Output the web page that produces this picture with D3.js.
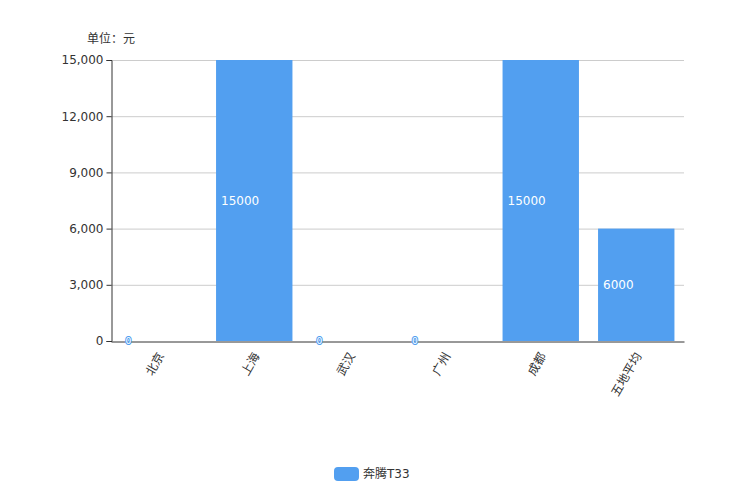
<!DOCTYPE html>
<html><head><meta charset="utf-8">
<script src="https://cdn.jsdelivr.net/npm/d3@7/dist/d3.min.js"></script>
<style>
html,body{margin:0;padding:0;background:#fff;}
text{font-family:"DejaVu Sans","Noto Sans CJK SC",sans-serif;}
</style></head>
<body>
<script>
const categories = ["北京","上海","武汉","广州","成都","五地平均"];
const values = [0,15000,0,0,15000,6000];
const seriesName = "奔腾T33";
const yTicks = [0,3000,6000,9000,12000,15000];
const unitLabel = "单位：元";

const W=744,H=496;
const m={left:111,right:60,top:60,bottom:155};
const svg=d3.select("body").append("svg").attr("width",W).attr("height",H);
const x=d3.scaleBand().domain(categories).range([m.left,W-m.right]).paddingInner(0.2).paddingOuter(0.1);
const y=d3.scaleLinear().domain([0,15000]).range([H-m.bottom,m.top]);
const color="#529ff0";

// grid
svg.append("g").selectAll("line").data(yTicks.filter(d=>d>0)).join("line")
 .attr("x1",m.left).attr("x2",W-m.right).attr("y1",d=>y(d)+0.5).attr("y2",d=>y(d)+0.5)
 .attr("stroke","#ccc").attr("stroke-width",1);

// bars
svg.append("g").selectAll("rect").data(values).join("rect")
 .attr("x",(d,i)=>x(categories[i])).attr("width",x.bandwidth())
 .attr("y",d=>y(d)).attr("height",d=>y(0)-y(d)).attr("fill",color);

// y axis
const ya=svg.append("g").attr("transform",`translate(${m.left+0.5},0)`)
 .call(d3.axisLeft(y).tickValues(yTicks).tickFormat(d3.format(",")).tickSizeOuter(0).tickSize(5));
ya.select(".domain").attr("stroke","#333");
ya.selectAll(".tick line").attr("stroke","#333");
ya.selectAll(".tick text").attr("fill","#333").style("font-size","12px").attr("x",-8);

// x axis
const xa=svg.append("g").attr("transform",`translate(0,${y(0)+0.5})`)
 .call(d3.axisBottom(x).tickSize(0).tickSizeOuter(0));
xa.select(".domain").attr("stroke","#333");
xa.selectAll(".tick text").attr("fill","#333").style("font-size","12px")
 .attr("text-anchor","end").attr("dy","0.35em")
 .attr("transform","translate(2,12) rotate(-60)").attr("y",0).attr("x",0);

// value labels
svg.append("g").selectAll("text").data(values).join("text")
 .attr("x",(d,i)=>x(categories[i])+5).attr("y",d=>(y(d)+y(0))/2)
 .attr("dy","0.35em").style("font-size",d=>d>0?"12px":"9px")
 .attr("fill","#fff")
 .attr("stroke",d=>d>0?"none":color).attr("stroke-width",2).attr("paint-order","stroke")
 .text(d=>d);

// unit label
svg.append("text").attr("x",111).attr("y",43).attr("text-anchor","middle")
 .attr("fill","#333").style("font-size","12px").text(unitLabel);

// legend
const lg=svg.append("g").attr("transform","translate(334,467)");
lg.append("rect").attr("width",25).attr("height",14).attr("rx",4).attr("fill",color);
lg.append("text").attr("x",29).attr("y",7).attr("dy","0.35em").attr("fill","#333")
 .style("font-size","12px").text(seriesName);
</script>
</body></html>
